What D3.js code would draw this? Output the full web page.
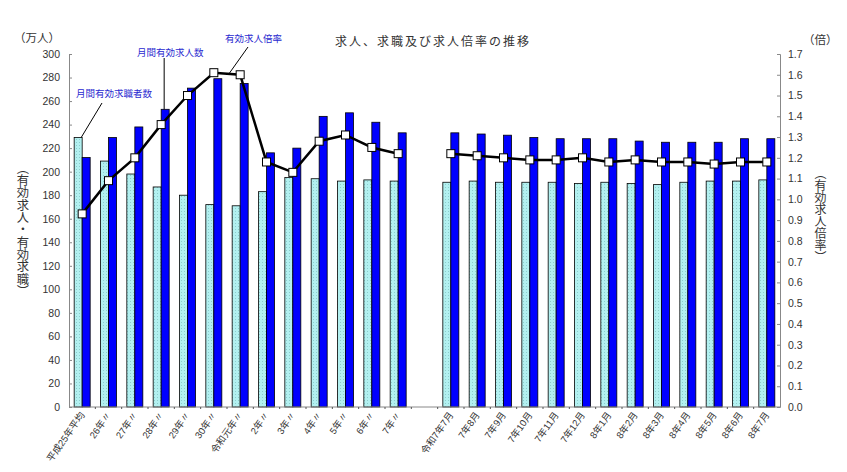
<!DOCTYPE html>
<html>
<head>
<meta charset="utf-8">
<script src="https://cdn.jsdelivr.net/npm/d3@7"></script>
<style>
  body { margin: 0; background: #fff; }
  svg { display: block; font-family: "Liberation Sans", "Noto Sans CJK JP", sans-serif; }
</style>
</head>
<body>
<div id="chart"></div>
<script>
// 年平均
const annualLabels = ["平成25年平均", "26年〃", "27年〃", "28年〃", "29年〃", "30年〃", "令和元年〃",
                      "2年〃", "3年〃", "4年〃", "5年〃", "6年〃", "7年〃"];
const annualSeekers = [229, 209, 198, 187, 180, 172, 171, 183, 195, 194, 192, 193, 192];
const annualOffers  = [212, 229, 238, 253, 271, 279, 275, 216, 220, 247, 250, 242, 233];
const annualRatio   = [0.93, 1.09, 1.20, 1.36, 1.50, 1.61, 1.60, 1.18, 1.13, 1.28, 1.31, 1.25, 1.22];

// 月別
const monthLabels = ["令和7年7月", "7年8月", "7年9月", "7年10月", "7年11月", "7年12月",
                     "8年1月", "8年2月", "8年3月", "8年4月", "8年5月", "8年6月", "8年7月"];
const monthSeekers = [191, 192, 191, 191, 191, 190, 191, 190, 189, 191, 192, 192, 193];
const monthOffers  = [233, 232, 231, 229, 228, 228, 228, 226, 225, 225, 225, 228, 228];
const monthRatio   = [1.22, 1.21, 1.20, 1.19, 1.19, 1.20, 1.18, 1.19, 1.18, 1.18, 1.17, 1.18, 1.18];

const leftTicks  = d3.range(0, 301, 20);
const rightTicks = d3.range(0, 18).map(d => d / 10);

///////////////////////////////////////////////////////////////////////

const W = 847, H = 472;
const plot = {left: 69, right: 780, top: 54, bottom: 407};

const gapKey = "__gap__";
const keys = annualLabels.map((d, i) => "a" + i)
  .concat([gapKey])
  .concat(monthLabels.map((d, i) => "m" + i));

let rows = [];
annualLabels.forEach((lab, i) => rows.push({key: "a" + i, label: lab, seek: annualSeekers[i], offer: annualOffers[i], ratio: annualRatio[i], part: "a"}));
monthLabels.forEach((lab, i) => rows.push({key: "m" + i, label: lab, seek: monthSeekers[i], offer: monthOffers[i], ratio: monthRatio[i], part: "m"}));

let svg = d3.select("#chart").append("svg")
  .attr("width", W).attr("height", H);

// dotted fill for 求職者数
let defs = svg.append("defs");
let pat = defs.append("pattern")
  .attr("id", "dots").attr("width", 3).attr("height", 3)
  .attr("patternUnits", "userSpaceOnUse");
pat.append("rect").attr("width", 3).attr("height", 3).attr("fill", "#b2f0f0");
pat.append("rect").attr("x", 1).attr("y", 1).attr("width", 1).attr("height", 1).attr("fill", "#8ccccc");

let x = d3.scaleBand().domain(keys).range([plot.left, plot.right]);
let y = d3.scaleLinear().domain([0, 300]).range([plot.bottom, plot.top]);
let yR = d3.scaleLinear().domain([0, 1.7]).range([plot.bottom, plot.top]);

const barW = 8;
const cx = d => x(d.key) + x.bandwidth() / 2;

// bars
svg.append("g").selectAll("rect").data(rows).join("rect")
  .attr("x", d => cx(d) - barW)
  .attr("y", d => y(d.seek))
  .attr("width", barW)
  .attr("height", d => y(0) - y(d.seek))
  .attr("fill", "url(#dots)")
  .attr("stroke", "#000").attr("stroke-width", 0.8);

svg.append("g").selectAll("rect").data(rows).join("rect")
  .attr("x", d => cx(d))
  .attr("y", d => y(d.offer))
  .attr("width", barW)
  .attr("height", d => y(0) - y(d.offer))
  .attr("fill", "#0000ff")
  .attr("stroke", "#000").attr("stroke-width", 0.8);

// axes
let gL = svg.append("g").attr("transform", `translate(${plot.left},0)`)
  .call(d3.axisLeft(y).tickValues(leftTicks).tickSize(-3).tickPadding(9));
let gR = svg.append("g").attr("transform", `translate(${plot.right},0)`)
  .call(d3.axisRight(yR).tickValues(rightTicks).tickSize(-3).tickPadding(8).tickFormat(d3.format(".1f")));
[gL, gR].forEach(g => {
  g.select(".domain").attr("stroke", "#888");
  g.selectAll(".tick line").attr("stroke", "#888");
  g.selectAll(".tick text").attr("fill", "#333").style("font-size", "10.5px")
    .style("font-family", "'Liberation Sans', sans-serif");
});

svg.append("line")
  .attr("x1", plot.left).attr("x2", plot.right)
  .attr("y1", plot.bottom).attr("y2", plot.bottom)
  .attr("stroke", "#888");

svg.append("g").selectAll("line").data(keys.slice(1)).join("line")
  .attr("x1", d => x(d)).attr("x2", d => x(d))
  .attr("y1", plot.bottom).attr("y2", plot.bottom + 2)
  .attr("stroke", "#555");

// x labels
svg.append("g").selectAll("text").data(rows).join("text")
  .attr("transform", d => `translate(${cx(d) + 3},${plot.bottom + 8}) rotate(-55)`)
  .attr("text-anchor", "end")
  .attr("fill", "#333")
  .style("font-size", "9.5px")
  .text(d => d.label);

// ratio lines
let line = d3.line().x(d => cx(d)).y(d => yR(d.ratio));
["a", "m"].forEach(p => {
  svg.append("path")
    .datum(rows.filter(d => d.part === p))
    .attr("d", line)
    .attr("fill", "none")
    .attr("stroke", "#000")
    .attr("stroke-width", 2.5);
});

svg.append("g").selectAll("rect").data(rows).join("rect")
  .attr("x", d => cx(d) - 4)
  .attr("y", d => yR(d.ratio) - 4)
  .attr("width", 8).attr("height", 8)
  .attr("fill", "#fff")
  .attr("stroke", "#000").attr("stroke-width", 1);

// title & units
svg.append("text")
  .attr("x", 433).attr("y", 46)
  .attr("text-anchor", "middle")
  .attr("fill", "#333")
  .style("font-size", "12px")
  .style("letter-spacing", "2px")
  .text("求人、求職及び求人倍率の推移");

svg.append("text").attr("x", 14).attr("y", 42).attr("fill", "#333")
  .style("font-size", "11.5px").text("（万人）");
svg.append("text").attr("x", 803).attr("y", 44).attr("fill", "#333")
  .style("font-size", "11.5px").text("（倍）");

svg.append("text")
  .attr("x", 22).attr("y", 162)
  .style("writing-mode", "vertical-rl")
  .attr("fill", "#333")
  .style("font-size", "12.3px")
  .text("（有効求人・有効求職）");

svg.append("text")
  .attr("x", 819).attr("y", 167)
  .style("writing-mode", "vertical-rl")
  .attr("fill", "#333")
  .style("font-size", "12px")
  .text("（有効求人倍率）");

// callouts
const callColor = "#2a2ad0";
let first = rows[0];
svg.append("line")
  .attr("x1", cx(first) - 1).attr("y1", y(first.seek))
  .attr("x2", 102).attr("y2", 103)
  .attr("stroke", "#000").attr("stroke-width", 1);
svg.append("text").attr("x", 76).attr("y", 97).attr("fill", callColor)
  .style("font-size", "9.5px").text("月間有効求職者数");

let fourth = rows[3];
svg.append("line")
  .attr("x1", cx(fourth) + 3).attr("y1", y(fourth.offer))
  .attr("x2", cx(fourth) + 3).attr("y2", 58)
  .attr("stroke", "#000").attr("stroke-width", 1);
svg.append("text").attr("x", 137).attr("y", 56).attr("fill", callColor)
  .style("font-size", "9.5px").text("月間有効求人数");

let r1 = rows[5], r2 = rows[6];
svg.append("line")
  .attr("x1", (cx(r1) + cx(r2)) / 2 + 2).attr("y1", (yR(r1.ratio) + yR(r2.ratio)) / 2)
  .attr("x2", 248).attr("y2", 47)
  .attr("stroke", "#000").attr("stroke-width", 1);
svg.append("text").attr("x", 225).attr("y", 42).attr("fill", callColor)
  .style("font-size", "9.5px").text("有効求人倍率");
</script>
</body>
</html>
